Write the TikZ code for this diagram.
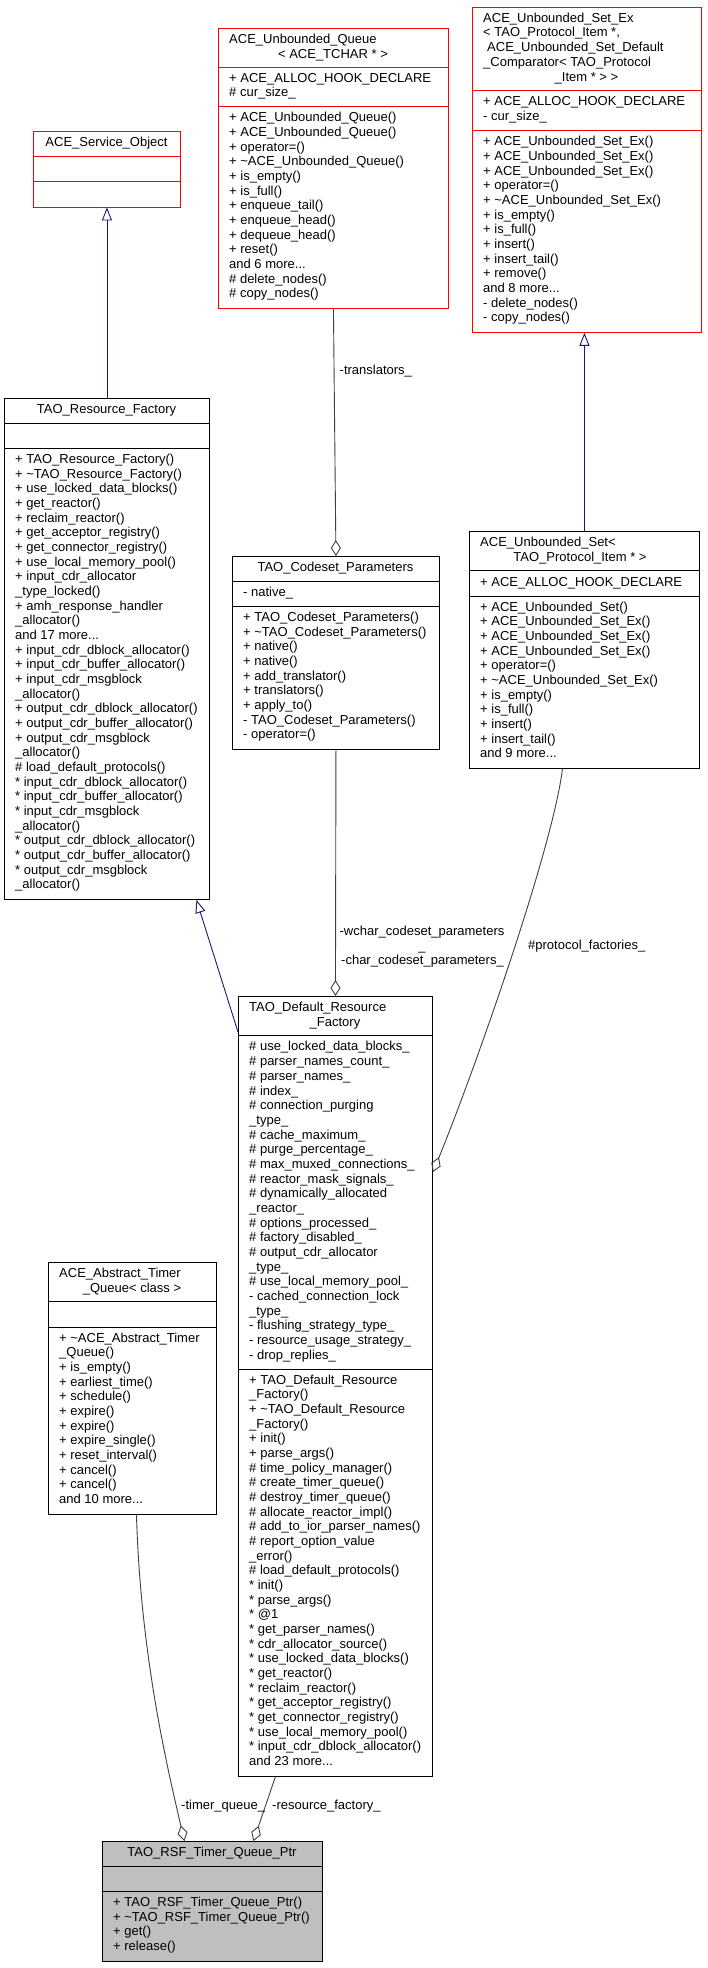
\documentclass[tikz,border=0pt]{standalone}
\usepackage{fontspec}
\setmainfont{Liberation Sans}
\usetikzlibrary{arrows.meta,calc,positioning}
\definecolor{Navy}{HTML}{191970}
\definecolor{Edge}{HTML}{404040}
\definecolor{Undoc}{HTML}{FF0000}
\definecolor{Focus}{HTML}{BFBFBF}

\tikzset{
  cls/.style={draw=black,fill=white,line width=0.9pt,inner sep=0pt,anchor=north west},
  undoc/.style={cls,draw=Undoc},
  txt/.style={font=\fontsize{13}{14.67}\selectfont,inner sep=0pt,align=left,anchor=west,
    execute at begin node=\strut,execute at end node=\strut},
  ttl/.style={txt,align=center,anchor=center},
  inh/.style={draw=Navy,line width=0.9pt,-{Triangle[open,length=13pt,width=10pt]}},
  agg/.style={draw=Edge,line width=0.9pt,-{Diamond[open,length=16pt,width=10pt]}}
}

\begin{document}
\begin{tikzpicture}[x=1pt,y=-1pt]
    \fill[white] (0,0) rectangle (707,1968);
    \useasboundingbox (0,0) rectangle (707,1968);

    % class boxes
    \node[undoc,minimum width=147pt,minimum height=75.5pt] (so) at (33,131) {};
    \node[undoc,minimum width=230pt,minimum height=279.9pt] (uq) at (218,28) {};
    \node[undoc,minimum width=229pt,minimum height=324.9pt] (usx) at (472,7) {};
    \node[cls,minimum width=205pt,minimum height=501pt] (rf) at (4,398) {};
    \node[cls,minimum width=207pt,minimum height=192.9pt] (cp) at (232,556) {};
    \node[cls,minimum width=230pt,minimum height=236.9pt] (us) at (469,531) {};
    \node[cls,minimum width=194pt,minimum height=779.7pt] (drf) at (238,996) {};
    \node[cls,minimum width=168pt,minimum height=251.5pt] (atq) at (48,1262) {};
    \node[cls,fill=Focus,minimum width=220pt,minimum height=119.5pt] (rsf) at (102,1841) {};

    \foreach \a/\b/\y/\c in {33/180/156.2/Undoc,33/180/181.4/Undoc,218/448/67.4/Undoc,218/448/106.8/Undoc,
      472/701/90.9/Undoc,472/701/130.7/Undoc,4/209/423.2/black,4/209/448.4/black,232/439/581.2/black,
      232/439/606.4/black,469/699/570.8/black,469/699/596.0/black,238/432/1035.8/black,238/432/1369.1/black,
      48/216/1301.8/black,48/216/1327.0/black,102/322/1866.2/black,102/322/1891.4/black}{\draw[line width=0.9pt,\c] (\a,\y) -- (\b,\y);}

    % ACE_Service_Object
    \node[ttl] (so-t) at (106.5,143.6) {ACE\_Service\_Object};

    % ACE_Unbounded_Queue
    \node[txt] (uq-t1) at (229,40.6) {ACE\_Unbounded\_Queue};
    \node[ttl] (uq-t2) at (333,55.2) {< ACE\_TCHAR * >};
    \node[txt] (uq-a) at (229,87.1) {+ ACE\_ALLOC\_HOOK\_DECLARE\\\# cur\_size\_};
    \node[txt] (uq-m) at (229,207.4) {+ ACE\_Unbounded\_Queue()\\+ ACE\_Unbounded\_Queue()\\+ operator=()\\
      + \textasciitilde ACE\_Unbounded\_Queue()\\+ is\_empty()\\+ is\_full()\\+ enqueue\_tail()\\+ enqueue\_head()\\
      + dequeue\_head()\\+ reset()\\and 6 more...\\\# delete\_nodes()\\\# copy\_nodes()};

    % ACE_Unbounded_Set_Ex
    \node[txt] (usx-t1) at (483,41.6) {ACE\_Unbounded\_Set\_Ex\\< TAO\_Protocol\_Item *,\\\hspace{4pt}ACE\_Unbounded\_Set\_Default\\\_Comparator< TAO\_Protocol};
    \node[ttl] (usx-t2) at (586.5,78.3) {\_Item * > >};
    \node[txt] (usx-a) at (483,110.8) {+ ACE\_ALLOC\_HOOK\_DECLARE\\- cur\_size\_};
    \node[txt] (usx-m) at (483,231.3) {+ ACE\_Unbounded\_Set\_Ex()\\+ ACE\_Unbounded\_Set\_Ex()\\+ ACE\_Unbounded\_Set\_Ex()\\
      + operator=()\\+ \textasciitilde ACE\_Unbounded\_Set\_Ex()\\+ is\_empty()\\+ is\_full()\\+ insert()\\+ insert\_tail()\\
      + remove()\\and 8 more...\\- delete\_nodes()\\- copy\_nodes()};

    % TAO_Resource_Factory
    \node[ttl] (rf-t) at (106.5,410.6) {TAO\_Resource\_Factory};
    \node[txt] (rf-m) at (15,673.7) {+ TAO\_Resource\_Factory()\\+ \textasciitilde TAO\_Resource\_Factory()\\+ use\_locked\_data\_blocks()\\
      + get\_reactor()\\+ reclaim\_reactor()\\+ get\_acceptor\_registry()\\+ get\_connector\_registry()\\+ use\_local\_memory\_pool()\\
      + input\_cdr\_allocator\\\_type\_locked()\\+ amh\_response\_handler\\\_allocator()\\and 17 more...\\
      + input\_cdr\_dblock\_allocator()\\+ input\_cdr\_buffer\_allocator()\\+ input\_cdr\_msgblock\\\_allocator()\\
      + output\_cdr\_dblock\_allocator()\\+ output\_cdr\_buffer\_allocator()\\+ output\_cdr\_msgblock\\\_allocator()\\
      \# load\_default\_protocols()\\{}* input\_cdr\_dblock\_allocator()\\{}* input\_cdr\_buffer\_allocator()\\
      {}* input\_cdr\_msgblock\\\_allocator()\\{}* output\_cdr\_dblock\_allocator()\\{}* output\_cdr\_buffer\_allocator()\\
      {}* output\_cdr\_msgblock\\\_allocator()};

    % TAO_Codeset_Parameters
    \node[ttl] (cp-t) at (335.5,568.6) {TAO\_Codeset\_Parameters};
    \node[txt] (cp-a) at (243,593.8) {- native\_};
    \node[txt] (cp-m) at (243,677.6) {+ TAO\_Codeset\_Parameters()\\+ \textasciitilde TAO\_Codeset\_Parameters()\\+ native()\\+ native()\\
      + add\_translator()\\+ translators()\\+ apply\_to()\\- TAO\_Codeset\_Parameters()\\- operator=()};

    % ACE_Unbounded_Set
    \node[txt] (us-t1) at (480,543.6) {ACE\_Unbounded\_Set<};
    \node[ttl] (us-t2) at (580,558.3) {TAO\_Protocol\_Item * >};
    \node[txt] (us-a) at (480,583.4) {+ ACE\_ALLOC\_HOOK\_DECLARE};
    \node[txt] (us-m) at (480,681.95) {+ ACE\_Unbounded\_Set()\\+ ACE\_Unbounded\_Set\_Ex()\\+ ACE\_Unbounded\_Set\_Ex()\\
      + ACE\_Unbounded\_Set\_Ex()\\+ operator=()\\+ \textasciitilde ACE\_Unbounded\_Set\_Ex()\\+ is\_empty()\\+ is\_full()\\
      + insert()\\+ insert\_tail()\\and 9 more...};

    % TAO_Default_Resource_Factory
    \node[txt] (drf-t1) at (249,1008.6) {TAO\_Default\_Resource};
    \node[ttl] (drf-t2) at (335,1023.2) {\_Factory};
    \node[txt] (drf-a) at (249,1202.5) {\# use\_locked\_data\_blocks\_\\\# parser\_names\_count\_\\\# parser\_names\_\\\# index\_\\
      \# connection\_purging\\\_type\_\\\# cache\_maximum\_\\\# purge\_percentage\_\\\# max\_muxed\_connections\_\\
      \# reactor\_mask\_signals\_\\\# dynamically\_allocated\\\_reactor\_\\\# options\_processed\_\\\# factory\_disabled\_\\
      \# output\_cdr\_allocator\\\_type\_\\\# use\_local\_memory\_pool\_\\- cached\_connection\_lock\\\_type\_\\
      - flushing\_strategy\_type\_\\- resource\_usage\_strategy\_\\- drop\_replies\_};
    \node[txt] (drf-m) at (249,1572.4) {+ TAO\_Default\_Resource\\\_Factory()\\+ \textasciitilde TAO\_Default\_Resource\\\_Factory()\\
      + init()\\+ parse\_args()\\\# time\_policy\_manager()\\\# create\_timer\_queue()\\\# destroy\_timer\_queue()\\
      \# allocate\_reactor\_impl()\\\# add\_to\_ior\_parser\_names()\\\# report\_option\_value\\\_error()\\
      \# load\_default\_protocols()\\{}* init()\\{}* parse\_args()\\{}* @1\\{}* get\_parser\_names()\\{}* cdr\_allocator\_source()\\
      {}* use\_locked\_data\_blocks()\\{}* get\_reactor()\\{}* reclaim\_reactor()\\{}* get\_acceptor\_registry()\\
      {}* get\_connector\_registry()\\{}* use\_local\_memory\_pool()\\{}* input\_cdr\_dblock\_allocator()\\and 23 more...};

    % ACE_Abstract_Timer_Queue
    \node[txt] (atq-t1) at (59,1274.6) {ACE\_Abstract\_Timer};
    \node[ttl] (atq-t2) at (132,1289.2) {\_Queue< class >};
    \node[txt] (atq-m) at (59,1420.3) {+ \textasciitilde ACE\_Abstract\_Timer\\\_Queue()\\+ is\_empty()\\+ earliest\_time()\\+ schedule()\\
      + expire()\\+ expire()\\+ expire\_single()\\+ reset\_interval()\\+ cancel()\\+ cancel()\\and 10 more...};

    % TAO_RSF_Timer_Queue_Ptr
    \node[ttl] (rsf-t) at (212,1853.6) {TAO\_RSF\_Timer\_Queue\_Ptr};
    \node[txt] (rsf-m) at (113,1926) {+ TAO\_RSF\_Timer\_Queue\_Ptr()\\+ \textasciitilde TAO\_RSF\_Timer\_Queue\_Ptr()\\+ get()\\+ release()};

    % inheritance
    \draw[inh] (rf.north) -- (so.south);
    \draw[inh] (us.north) -- (us.north |- usx.south);
    \draw[inh] ([yshift=-36pt]drf.north west) -- ([xshift=89.5pt]rf.south);

    % members
    \draw[agg] (uq.south) -- (cp.north);
    \draw[agg] (cp.south) -- (drf.north);
    \draw[agg] ([xshift=-22pt]us.south) .. controls +(-10,82) and +(38,-92) .. ([yshift=-176pt]drf.north east);
    \draw[agg] ([xshift=4pt]atq.south) .. controls +(4,137) and +(-19,-81) .. ([xshift=-28pt]rsf.north);
    \draw[agg] ([xshift=-60pt]drf.south) -- ([xshift=41pt]rsf.north);

    \node[txt] (l-tr) at (339.5,372) {-translators\_};
    \node[ttl] (l-wc) at (422,940.3) {-wchar\_codeset\_parameters\\\_};
    \node[txt] (l-ch) at (341,962) {-char\_codeset\_parameters\_};
    \node[txt] (l-pf) at (528,947) {\#protocol\_factories\_};
    \node[txt] (l-tq) at (181,1807) {-timer\_queue\_};
    \node[txt] (l-rf) at (272,1807) {-resource\_factory\_};
\end{tikzpicture}
\end{document}
